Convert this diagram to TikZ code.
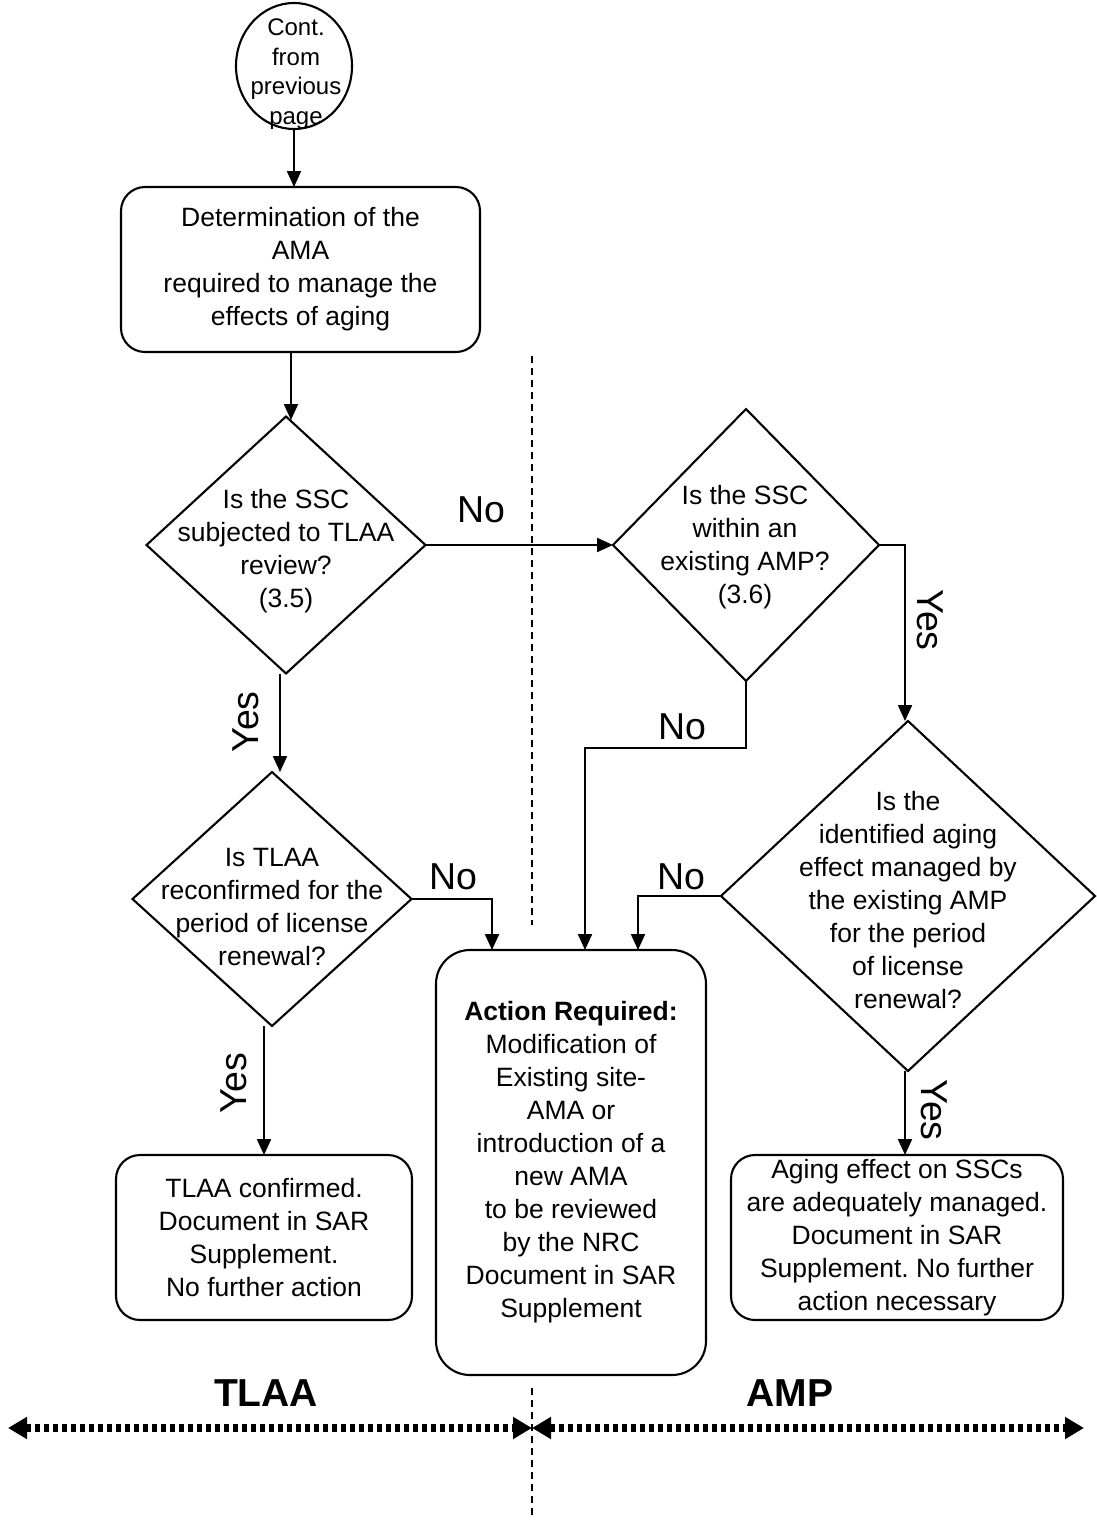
\documentclass[tikz,border=0pt]{standalone}
\usepackage{fontspec}
\setmainfont{Liberation Sans}
\usetikzlibrary{arrows.meta,shapes.geometric}
\frenchspacing
\begin{document}
\begin{tikzpicture}[x=1pt,y=-1pt,
  every node/.style={inner sep=0pt,outer sep=0pt},
  txt/.style={font=\fontsize{26.5pt}{33pt}\selectfont, align=center},
  box/.style={draw, line width=2.1pt, rounded corners=24pt, txt},
  dia/.style={draw, diamond, line width=2.1pt},
  lbl/.style={font=\fontsize{37.5pt}{40pt}\selectfont},
  big/.style={font=\fontsize{39pt}{42pt}\selectfont\bfseries},
  flow/.style={line width=2.1pt, -{Triangle[length=16pt,width=14pt]}},
  divider/.style={line width=1.5pt, dash pattern=on 7pt off 5pt},
  span/.style={line width=8pt, dash pattern=on 5pt off 4pt,
     {Triangle[length=19pt,width=21pt]}-{Triangle[length=19pt,width=21pt]}}]
\useasboundingbox (0,0) rectangle (1097,1524);

% nodes
\node[draw, ellipse, line width=2.1pt, minimum width=116pt, minimum height=126pt] (start) at (294,66) {};
\node[font=\fontsize{24pt}{29.5pt}\selectfont, align=center] (startt) at (296,74) {Cont.\\from\\previous\\page};

\node[box, minimum width=359pt, minimum height=165pt] (box1) at (300.5,269.5)
  {Determination of the\\AMA\\required to manage the\\effects of aging};

\node[dia, minimum width=279pt, minimum height=257pt] (d1) at (286,545) {};
\node[txt] (d1t) at (286,551) {Is the SSC\\subjected to TLAA\\review?\\(3.5)};

\node[dia, minimum width=266pt, minimum height=272pt] (d2) at (746,545) {};
\node[txt] (d2t) at (745,547) {Is the SSC\\within an\\existing AMP?\\(3.6)};

\node[dia, minimum width=279pt, minimum height=254pt] (d4) at (272,899) {};
\node[txt] (d4t) at (272,907) {Is TLAA\\reconfirmed for the\\period of license\\renewal?};

\node[dia, minimum width=374pt, minimum height=350pt] (d3) at (908,896) {};
\node[txt] (d3t) at (908,900) {Is the\\identified aging\\effect managed by\\the existing AMP\\for the period\\of license\\renewal?};

\node[box, rounded corners=34pt, minimum width=270pt, minimum height=425pt] (act) at (571,1162.5)
  {\textbf{Action Required:}\\Modification of\\Existing site-\\AMA or\\introduction of a\\new AMA\\to be reviewed\\by the NRC\\Document in SAR\\Supplement};

\node[box, minimum width=296pt, minimum height=165pt] (tlaa) at (264,1237.5)
  {TLAA confirmed.\\Document in SAR\\Supplement.\\No further action};

\node[box, minimum width=332pt, minimum height=165pt] (amp) at (897,1237.5)
  {Aging effect on SSCs\\are adequately managed.\\Document in SAR\\Supplement. No further\\action necessary};

% helper coordinates
\coordinate (x280) at (280,0);
\coordinate (x264) at (264,0);
\coordinate (x492) at (492,0);
\coordinate (x638) at (638,0);
\coordinate (x905) at (905,0);
\coordinate (n2) at (585,748);

% connectors
\draw[flow] (start.south) -- (start.south |- box1.north);
\draw[flow] (d1.north |- box1.south) ++(5,0) -- ++(0,68);
\draw[flow] (d1.east) -- (d2.west);
\draw[flow] (d2.east) -| (x905 |- d3.north);
\draw[flow] (d2.south) |- (n2) -- (n2 |- act.north);
\draw[flow] (x280 |- d1.south) -- (x280 |- d4.north);
\draw[flow] (d4.east) -| (x492 |- act.north);
\draw[flow] (d3.west) -| (x638 |- act.north);
\draw[flow] (x905 |- d3.south) -- (x905 |- amp.north);
\draw[flow] (x264 |- d4.south) -- (x264 |- tlaa.north);

% labels
\node[lbl] (no1) at (481,510) {No};
\node[lbl] (no2) at (682,727) {No};
\node[lbl] (no3) at (453,877) {No};
\node[lbl] (no4) at (681,877) {No};
\node[lbl, rotate=90] (yes1) at (246,722) {Yes};
\node[lbl, rotate=-90] (yes2) at (930,620) {Yes};
\node[lbl, rotate=90] (yes3) at (234,1083) {Yes};
\node[lbl, rotate=-90] (yes4) at (934,1110) {Yes};

\node[big] (tlaalbl) at (266,1393) {TLAA};
\node[big] (amplbl) at (790,1393) {AMP};

% divider
\coordinate (dv1) at (532,356);
\coordinate (dv2) at (532,925);
\coordinate (dv3) at (532,1388);
\coordinate (dv4) at (532,1516);
\draw[divider] (dv1) -- (dv2);
\draw[divider] (dv3) -- (dv4);

% spans
\coordinate (sl) at (8,1428);
\coordinate (sm) at (532,1428);
\coordinate (sr) at (1084,1428);
\draw[span] (sl) -- (sm);
\draw[span] (sm) -- (sr);
\end{tikzpicture}
\end{document}
